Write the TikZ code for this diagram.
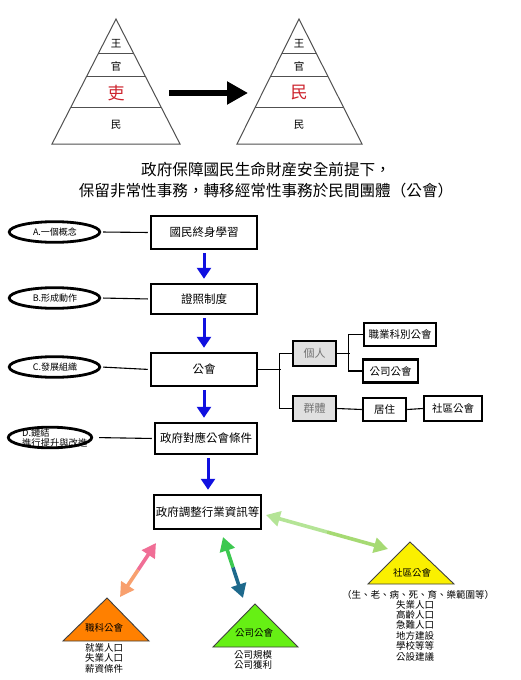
\documentclass[tikz,border=0pt]{standalone}
\usepackage{fontspec}
\setmainfont{Noto Sans CJK TC}
\usetikzlibrary{arrows.meta,shapes.geometric,calc}
\definecolor{arrblue}{RGB}{16,16,224}
\definecolor{kred}{RGB}{205,35,45}
\definecolor{pinkA}{RGB}{240,110,150}
\definecolor{orangeA}{RGB}{248,160,110}
\definecolor{greenA}{RGB}{60,200,80}
\definecolor{tealA}{RGB}{30,105,140}
\definecolor{lgreenA}{RGB}{180,228,150}
\definecolor{lgreenB}{RGB}{166,218,115}
\definecolor{triO}{RGB}{255,128,0}
\definecolor{triG}{RGB}{102,240,20}
\definecolor{triY}{RGB}{250,240,0}
\definecolor{pyrline}{RGB}{80,80,80}
\begin{document}
\begin{tikzpicture}[x=1pt,y=-1pt,
  pyr/.style={inner sep=0pt,font=\fontsize{10.5}{11}\selectfont},
  pyrbig/.style={inner sep=0pt,text=kred,font=\fontsize{17}{18}\selectfont},
  pline/.style={draw=pyrline,line width=1pt},
  title/.style={inner sep=0pt,font=\fontsize{15.6}{18}\selectfont},
  mainbox/.style={draw,line width=2.5pt,inner sep=0pt,font=\fontsize{11.5}{12}\selectfont},
  subbox/.style={draw,line width=2.5pt,inner sep=0pt,font=\fontsize{10.5}{11}\selectfont},
  graybox/.style={subbox,fill=black!12,text=black!55,font=\fontsize{11}{12}\selectfont},
  ellshape/.style={ellipse,draw,line width=2.8pt,inner xsep=32pt,inner ysep=7.3pt},
  elltext/.style={inner sep=0pt,font=\fontsize{9}{10}\selectfont},
  conn/.style={draw,line width=1.1pt},
  bluearr/.style={draw=arrblue,line width=3pt,-{Triangle[width=14pt,length=11pt]},shorten <=3pt,shorten >=4pt},
  coloredhalf/.style={line width=3.6pt,-{Triangle[width=15pt,length=14pt]}},
  tri/.style={draw=black!75,line width=0.9pt,line join=miter},
  trilabel/.style={inner sep=0pt,font=\fontsize{9.5}{10}\selectfont},
  trilist/.style={inner sep=0pt,align=center,font=\fontsize{9.5}{10.4}\selectfont}
]
\fill[white] (0,0) rectangle (520,680);
\useasboundingbox (0,0) rectangle (520,680);

% ---------- pyramids ----------
\draw[pline] (116,19) -- (52,144) -- (180,144) -- cycle;
\draw[pline] (98.6,53) -- (133.4,53);
\draw[pline] (86.8,76) -- (145.2,76);
\draw[pline] (71,107) -- (161,107);
\node[pyr] (lw) at (116,44) {王};
\node[pyr] (lg) at (116,66) {官};
\node[pyrbig] (ll) at (116,93) {吏};
\node[pyr] (lm) at (116,125) {民};

\draw[pline] (299,19) -- (237,144) -- (362,144) -- cycle;
\draw[pline] (282,53) -- (316,53);
\draw[pline] (270.5,76) -- (327.5,76);
\draw[pline] (255,107) -- (343,107);
\node[pyr] (rw) at (299,44) {王};
\node[pyr] (rg) at (299,66) {官};
\node[pyrbig] (rl) at (299,93) {民};
\node[pyr] (rm) at (299,125) {民};

\coordinate (bigA) at (169,93);
\coordinate (bigB) at (248,93);
\draw[line width=6.5pt,-{Triangle[width=22pt,length=21pt]}] (bigA) -- (bigB);

% ---------- title ----------
\node[title] (t1) at (266,170) {政府保障國民生命財産安全前提下，};
\node[title] (t2) at (266,191) {保留非常性事務，轉移經常性事務於民間團體（公會）};

% ---------- main boxes ----------
\node[mainbox,minimum width=106pt,minimum height=33pt] (b1) at (204,232.5) {國民終身學習};
\node[mainbox,minimum width=106pt,minimum height=30pt] (b2) at (204,299) {證照制度};
\node[mainbox,minimum width=106pt,minimum height=33pt] (b3) at (204,369.5) {公會};
\node[mainbox,minimum width=102pt,minimum height=31pt] (b4) at (206,438.5) {政府對應公會條件};
\node[mainbox,minimum width=107pt,minimum height=34pt] (b5) at (207.5,512) {政府調整行業資訊等};

\draw[bluearr] (b1.south) -- (b1.south |- b2.north);
\draw[bluearr] (b2.south) -- (b2.south |- b3.north);
\draw[bluearr] (b3.south) -- (b3.south |- b4.north);
\draw[bluearr] ($(b4.south)+(2,0)$) -- ($(b4.south |- b5.north)+(2,0)$);

% ---------- ellipses ----------
\node[ellshape] (e1) at (54.5,232) {};
\node[elltext] (e1t) at (55,232) {A.一個概念};
\node[ellshape] (e2) at (54.5,298) {};
\node[elltext] (e2t) at (55,298) {B.形成動作};
\node[ellshape] (e3) at (54.5,367) {};
\node[elltext] (e3t) at (55,367) {C.發展組織};
\node[ellshape,inner xsep=29.5pt] (e4) at (50,437.5) {};
\node[elltext,anchor=west,align=left,font=\fontsize{9.3}{10}\selectfont] (e4t) at (22,438) {D.鏈結\\進行提升與改進};

\draw[conn,shorten <=2pt,shorten >=2pt] (e1.east) -- (b1.west);
\draw[conn,shorten <=2pt,shorten >=2pt] (e2.east) -- (b2.west);
\draw[conn,shorten <=2pt,shorten >=2pt] (e3.east) -- (b3.west);
\draw[conn,shorten <=6pt,shorten >=2pt] (e4.east) -- (b4.west);

% ---------- right tree ----------
\node[graybox,minimum width=43pt,minimum height=25pt] (p1) at (314.5,353.5) {個人};
\node[graybox,minimum width=43pt,minimum height=25pt] (p2) at (314.5,408.5) {群體};
\node[subbox,minimum width=72pt,minimum height=23pt] (q1) at (400,334.5) {職業科別公會};
\node[subbox,minimum width=55pt,minimum height=23pt] (q2) at (390.5,371) {公司公會};
\node[subbox,minimum width=43pt,minimum height=23pt] (q3) at (384.5,409.5) {居住};
\node[subbox,minimum width=58pt,minimum height=25pt] (q4) at (453,408.5) {社區公會};

\coordinate (j1) at (280.5,369.5);
\coordinate (j2) at (350,353.5);
\draw[conn] (b3.east) -- (j1);
\draw[conn] (p1.west) -- ++(-12.5,0) |- (p2.west);
\draw[conn] (p1.east) -- (j2);
\draw[conn] (q1.west) -- ++(-14,0) |- (q2.west);
\draw[conn] (p2.east) -- (q3.west);
\draw[conn] (q3.east) -- (q4.west);

% ---------- bottom triangles ----------
\coordinate (oT) at (107,598);
\draw[tri,fill=triO] (oT) -- (63,641) -- (149,641) -- cycle;
\node[trilabel] (oL) at (104,628) {職科公會};
\node[trilist] (oList) at (104,658) {就業人口\\失業人口\\薪資條件};

\coordinate (gT) at (255,604);
\draw[tri,fill=triG] (gT) -- (213,647) -- (298,647) -- cycle;
\node[trilabel] (gL) at (254,633) {公司公會};
\node[trilist] (gList) at (253,660) {公司規模\\公司獲利};

\coordinate (yT) at (410,542);
\draw[tri,fill=triY] (yT) -- (368,584) -- (454,584) -- cycle;
\node[trilabel] (yL) at (412,573) {社區公會};
\node[trilist] (yHead) at (418,595) {（生、老、病、死、育、樂範圍等）};
\node[trilist,anchor=north] (yList) at (415,600) {失業人口\\高齡人口\\急難人口\\地方建設\\學校等等\\公設建議};

% ---------- coloured double arrows ----------
\coordinate (pa) at (156,543);
\coordinate (pb) at (120,597);
\draw[coloredhalf,pinkA] ($(pa)!0.5!(pb)$) -- (pa);
\draw[coloredhalf,orangeA] ($(pa)!0.5!(pb)$) -- (pb);

\coordinate (ga) at (223,537);
\coordinate (gb) at (243,598);
\draw[coloredhalf,greenA] ($(ga)!0.5!(gb)$) -- (ga);
\draw[coloredhalf,tealA] ($(ga)!0.5!(gb)$) -- (gb);

\coordinate (la) at (266,515);
\coordinate (lb) at (388,549);
\draw[coloredhalf,lgreenA] ($(la)!0.5!(lb)$) -- (la);
\draw[coloredhalf,lgreenB] ($(la)!0.5!(lb)$) -- (lb);
\end{tikzpicture}
\end{document}
